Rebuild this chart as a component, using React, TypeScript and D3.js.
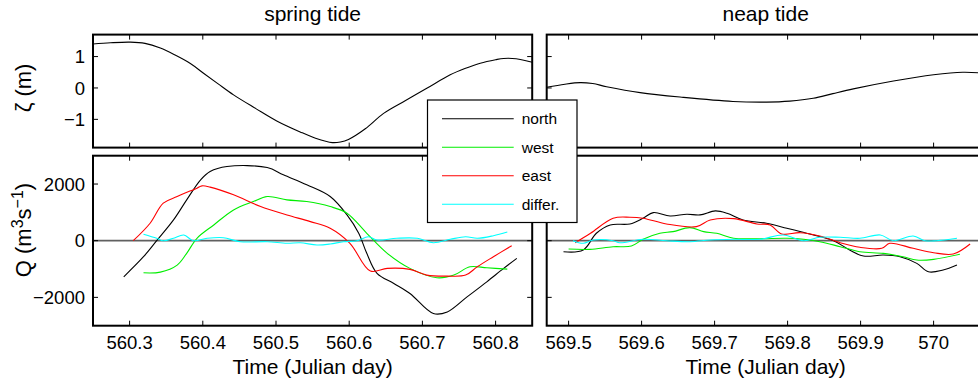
import React from "react";
import * as d3 from "d3";

// ---------- data ----------
const springZetaT = [560.25, 560.274, 560.301, 560.321, 560.342, 560.362, 560.383, 560.401, 560.421, 560.442, 560.472, 560.501, 560.533, 560.554, 560.577, 560.588, 560.599, 560.622, 560.647, 560.677, 560.706, 560.738, 560.758, 560.779, 560.8, 560.811, 560.828, 560.85];
const springZeta = [1.40, 1.44, 1.46, 1.42, 1.27, 1.05, 0.78, 0.47, 0.13, -0.22, -0.65, -1.05, -1.40, -1.60, -1.74, -1.72, -1.64, -1.30, -0.81, -0.40, -0.01, 0.42, 0.62, 0.79, 0.90, 0.94, 0.93, 0.82];

const neapZetaT = [569.47, 569.495, 569.516, 569.533, 569.552, 569.598, 569.657, 569.725, 569.771, 569.803, 569.835, 569.862, 569.89, 569.945, 570.0, 570.04, 570.07];
const neapZeta = [0.02, 0.12, 0.17, 0.14, 0.04, -0.15, -0.30, -0.43, -0.45, -0.42, -0.33, -0.18, -0.03, 0.22, 0.42, 0.50, 0.47];

const springNorthT = [560.292, 560.319, 560.337, 560.360, 560.378, 560.397, 560.410, 560.433, 560.488, 560.510, 560.542, 560.574, 560.597, 560.613, 560.624, 560.638, 560.661, 560.683, 560.715, 560.734, 560.761, 560.788, 560.811, 560.829];
const springNorth = [-1274, -566, 0, 733, 1441, 2149, 2443, 2620, 2584, 2326, 1972, 1558, 910, 262, -446, -1154, -1508, -1862, -2570, -2513, -1982, -1451, -977, -623];

const springWestT = [560.319, 560.342, 560.365, 560.378, 560.392, 560.415, 560.442, 560.469, 560.488, 560.515, 560.542, 560.574, 560.597, 560.624, 560.652, 560.683, 560.720, 560.743, 560.765, 560.788, 560.816];
const springWest = [-1133, -1108, -860, -446, 85, 556, 1087, 1381, 1558, 1441, 1381, 1204, 970, 262, -446, -977, -1310, -1214, -920, -956, -1002];

const springEastT = [560.305, 560.328, 560.346, 560.365, 560.392, 560.399, 560.410, 560.442, 560.479, 560.515, 560.547, 560.574, 560.601, 560.629, 560.652, 560.683, 560.706, 560.734, 560.759, 560.775, 560.797, 560.822];
const springEast = [0, 616, 1324, 1558, 1855, 1936, 1890, 1618, 1204, 910, 673, 439, -92, -1073, -977, -1012, -1214, -1250, -1214, -920, -566, -177];

const springDiffT = [560.319, 560.337, 560.346, 560.360, 560.374, 560.387, 560.406, 560.428, 560.451, 560.488, 560.515, 560.533, 560.556, 560.574, 560.592, 560.611, 560.626, 560.638, 560.665, 560.693, 560.715, 560.738, 560.759, 560.775, 560.797, 560.816];
const springDiff = [226, 85, 0, 85, 202, 0, 85, 106, -35, -35, -92, -71, -152, -117, -35, 0, 142, 25, 85, 85, -71, 50, 142, 85, 177, 308];

const neapNorthT = [569.493, 569.520, 569.538, 569.557, 569.584, 569.602, 569.616, 569.639, 569.662, 569.680, 569.701, 569.717, 569.739, 569.771, 569.799, 569.826, 569.863, 569.885, 569.904, 569.931, 569.954, 569.977, 569.993, 570.013, 570.032];
const neapNorth = [-389, -329, 262, 556, 591, 793, 991, 874, 934, 910, 1051, 970, 733, 616, 439, 262, 0, -329, -542, -506, -566, -800, -1097, -1037, -860];

const neapWestT = [569.5, 569.529, 569.561, 569.586, 569.602, 569.625, 569.643, 569.666, 569.685, 569.703, 569.726, 569.762, 569.799, 569.822, 569.844, 569.872, 569.899, 569.931, 569.958, 569.977, 570.0, 570.036];
const neapWest = [-294, -305, -212, -188, 50, 262, 319, 460, 319, 262, 85, 71, 85, 50, -35, -212, -389, -446, -566, -683, -658, -481];

const neapEastT = [569.509, 569.530, 569.561, 569.584, 569.602, 569.634, 569.675, 569.694, 569.726, 569.758, 569.776, 569.792, 569.817, 569.844, 569.872, 569.899, 569.929, 569.940, 569.972, 570.0, 570.027, 570.050];
const neapEast = [-71, 262, 793, 828, 793, 591, 496, 733, 779, 591, 556, 237, 283, 166, -71, -234, -269, -92, -269, -425, -471, -117];

const neapDiffT = [569.506, 569.520, 569.534, 569.561, 569.570, 569.602, 569.634, 569.666, 569.694, 569.726, 569.762, 569.794, 569.822, 569.844, 569.872, 569.899, 569.927, 569.945, 569.972, 569.988, 570.004, 570.032];
const neapDiff = [0, -92, 25, 0, -71, 50, 0, -35, 25, 50, 50, 202, 0, 120, 120, 85, 202, 0, 166, 0, 0, 85];

const springTicks = [560.3, 560.4, 560.5, 560.6, 560.7, 560.8];
const springTickLabels = ["560.3", "560.4", "560.5", "560.6", "560.7", "560.8"];
const neapTicks = [569.5, 569.6, 569.7, 569.8, 569.9, 570.0];
const neapTickLabels = ["569.5", "569.6", "569.7", "569.8", "569.9", "570"];
const zetaTicks = [-1, 0, 1];
const zetaTickLabels = ["\u22121", "0", "1"];
const qTicks = [-2000, 0, 2000];
const qTickLabels = ["\u22122000", "0", "2000"];

const seriesNames = ["north", "west", "east", "differ."];
const seriesColors = ["#000000", "#00ee00", "#ff0000", "#00ffff"];

// ---------- layout ----------
const W = 978;
const H = 384;
const FONT = "'Liberation Sans', Arial, Helvetica, sans-serif";
const leftX: [number, number] = [93, 532.2];
const rightX: [number, number] = [546.7, 984.7];
const topY: [number, number] = [34.6, 147.6];
const botY: [number, number] = [155.7, 325.7];

const xSpring = d3.scaleLinear().domain([560.25, 560.85]).range(leftX);
const xNeap = d3.scaleLinear().domain([569.47, 570.07]).range(rightX);
const yZeta = d3.scaleLinear().domain([-1.9, 1.7]).range([topY[1], topY[0]]);
const yQ = d3.scaleLinear().domain([-3000, 3000]).range([botY[1], botY[0]]);

function makePath(x: d3.ScaleLinear<number, number>, y: d3.ScaleLinear<number, number>, ts: number[], vs: number[]) {
  const pts = ts.map((t, i) => [t, vs[i]] as [number, number]);
  const gen = d3
    .line<[number, number]>()
    .x((d) => x(d[0]))
    .y((d) => y(d[1]))
    .curve(d3.curveCatmullRom.alpha(0.5));
  return gen(pts) || "";
}

const TL = 5;
const TICKFS = 18.5;

function Frame({ x, y, xticks, yticks, xlabels, ylabels }: any) {
  const [x0, x1] = x.range();
  const [y1, y0] = y.range();
  return (
    <g>
      {xticks.map((t: number, i: number) => (
        <g key={"xt" + i}>
          <line x1={x(t)} x2={x(t)} y1={y1} y2={y1 - TL} stroke="#000" strokeWidth={1} />
          <line x1={x(t)} x2={x(t)} y1={y0} y2={y0 + TL} stroke="#000" strokeWidth={1} />
          {xlabels && (
            <text x={x(t)} y={y1 + 22.8} textAnchor="middle" fontSize={TICKFS} fontFamily={FONT} fill="#000">
              {xlabels[i]}
            </text>
          )}
        </g>
      ))}
      {yticks.map((t: number, i: number) => (
        <g key={"yt" + i}>
          <line x1={x0} x2={x0 + TL} y1={y(t)} y2={y(t)} stroke="#000" strokeWidth={1} />
          <line x1={x1} x2={x1 - TL} y1={y(t)} y2={y(t)} stroke="#000" strokeWidth={1} />
          {ylabels && (
            <text x={x0 - 8} y={y(t)} dy="0.36em" textAnchor="end" fontSize={TICKFS} fontFamily={FONT} fill="#000">
              {ylabels[i]}
            </text>
          )}
        </g>
      ))}
      <rect x={x0} y={y0} width={x1 - x0} height={y1 - y0} fill="none" stroke="#000" strokeWidth={2} />
    </g>
  );
}

function QPanel({ x, t, v, id }: any) {
  const [x0, x1] = x.range();
  return (
    <g>
      <defs>
        <clipPath id={id}>
          <rect x={x0} y={botY[0]} width={x1 - x0} height={botY[1] - botY[0]} />
        </clipPath>
      </defs>
      <g clipPath={`url(#${id})`}>
        <line x1={x0} x2={x1} y1={yQ(0)} y2={yQ(0)} stroke="#606060" strokeWidth={1.8} />
        {t.map((ts: number[], i: number) => (
          <path key={i} d={makePath(x, yQ, ts, v[i])} fill="none" stroke={seriesColors[i]} strokeWidth={1.1} />
        ))}
      </g>
    </g>
  );
}

export default function App() {
  const legendX = 427.5;
  const legendY = 100;
  const rowY = [118.7, 147.2, 175.7, 204.2];
  return (
    <svg
      width={W}
      height={H}
      style={{ position: "absolute", left: 0, top: 0, background: "#fff" }}
      xmlns="http://www.w3.org/2000/svg"
    >
      <rect x={0} y={0} width={W} height={H} fill="#fff" />
      {/* titles */}
      <text x={(leftX[0] + leftX[1]) / 2} y={20.5} textAnchor="middle" fontSize={21} fontFamily={FONT}>
        spring tide
      </text>
      <text x={(rightX[0] + rightX[1]) / 2} y={20.5} textAnchor="middle" fontSize={21} fontFamily={FONT}>
        neap tide
      </text>

      {/* top panels */}
      <defs>
        <clipPath id="cTopL">
          <rect x={leftX[0]} y={topY[0]} width={leftX[1] - leftX[0]} height={topY[1] - topY[0]} />
        </clipPath>
        <clipPath id="cTopR">
          <rect x={rightX[0]} y={topY[0]} width={rightX[1] - rightX[0]} height={topY[1] - topY[0]} />
        </clipPath>
      </defs>
      <g clipPath="url(#cTopL)">
        <path d={makePath(xSpring, yZeta, springZetaT, springZeta)} fill="none" stroke="#000" strokeWidth={1.1} />
      </g>
      <g clipPath="url(#cTopR)">
        <path d={makePath(xNeap, yZeta, neapZetaT, neapZeta)} fill="none" stroke="#000" strokeWidth={1.1} />
      </g>
      <Frame x={xSpring} y={yZeta} xticks={springTicks} yticks={zetaTicks} ylabels={zetaTickLabels} />
      <Frame x={xNeap} y={yZeta} xticks={neapTicks} yticks={zetaTicks} />

      {/* bottom panels */}
      <QPanel
        x={xSpring}
        id="cBotL"
        t={[springNorthT, springWestT, springEastT, springDiffT]}
        v={[springNorth, springWest, springEast, springDiff]}
      />
      <QPanel
        x={xNeap}
        id="cBotR"
        t={[neapNorthT, neapWestT, neapEastT, neapDiffT]}
        v={[neapNorth, neapWest, neapEast, neapDiff]}
      />
      <Frame x={xSpring} y={yQ} xticks={springTicks} yticks={qTicks} xlabels={springTickLabels} ylabels={qTickLabels} />
      <Frame x={xNeap} y={yQ} xticks={neapTicks} yticks={qTicks} xlabels={neapTickLabels} />

      {/* x labels */}
      <text x={(leftX[0] + leftX[1]) / 2} y={374} textAnchor="middle" fontSize={21} fontFamily={FONT}>
        Time (Julian day)
      </text>
      <text x={(rightX[0] + rightX[1]) / 2} y={374} textAnchor="middle" fontSize={21} fontFamily={FONT}>
        Time (Julian day)
      </text>

      {/* y labels */}
      <text transform={`translate(31,${yZeta(0)}) rotate(-90)`} textAnchor="middle" fontSize={22} fontFamily={FONT}>
        {"\u03B6 (m)"}
      </text>
      <text transform={`translate(31,230) rotate(-90)`} textAnchor="middle" fontSize={22} fontFamily={FONT}>
        Q (m
        <tspan fontSize={16} dy={-8}>3</tspan>
        <tspan dy={8}>s</tspan>
        <tspan fontSize={16} dy={-8}>{"\u22121"}</tspan>
        <tspan dy={8}>)</tspan>
      </text>

      {/* legend */}
      <rect x={legendX} y={legendY} width={149.5} height={122.5} fill="#fff" stroke="#000" strokeWidth={1.2} />
      {seriesNames.map((n, i) => (
        <g key={n}>
          <line x1={442} x2={513.7} y1={rowY[i]} y2={rowY[i]} stroke={seriesColors[i]} strokeWidth={1.1} />
          <text x={521.7} y={rowY[i]} dy="0.36em" fontSize={15.5} fontFamily={FONT}>
            {n}
          </text>
        </g>
      ))}
    </svg>
  );
}
